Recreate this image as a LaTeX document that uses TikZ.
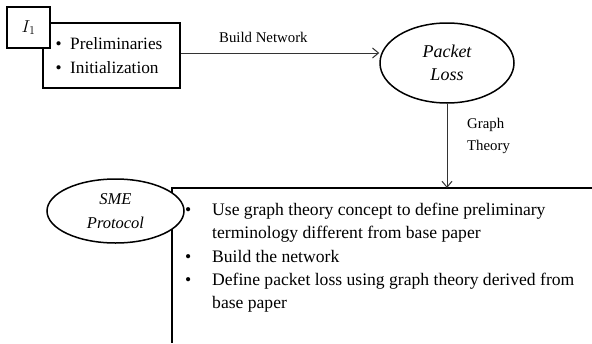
\documentclass[tikz,border=0pt]{standalone}
\usepackage{fontspec}
\setmainfont{Liberation Serif}
\usetikzlibrary{shapes.geometric,arrows.meta}
\begin{document}
\begin{tikzpicture}[x=1pt,y=-1pt,
  boxline/.style={draw=black,line width=1.8pt},
  ell/.style={ellipse,draw=black,line width=1.5pt,fill=white,inner sep=0pt,align=center},
  arr/.style={draw=black!80,line width=1pt,-{Straight Barb[length=6pt,width=10pt]}},
  lbl/.style={font=\fontsize{14.8}{22}\selectfont,inner sep=0pt,anchor=base west},
  body/.style={font=\fontsize{17.6}{23.25}\selectfont,inner sep=0pt,anchor=base west},
  small/.style={font=\fontsize{17.3}{23}\selectfont,inner sep=0pt,anchor=base west}
]
\useasboundingbox[fill=white] (0,0) rectangle (592,343);
% preliminaries box
\node[boxline,fill=white,minimum width=137pt,minimum height=65pt,inner sep=0pt] (prelim) at (111.5,55.5) {};
\node[small] (p1b) at (55.5,49) {\textbullet};
\node[small] (p1) at (70,49) {Preliminaries};
\node[small] (p2b) at (55.5,73) {\textbullet};
\node[small] (p2) at (70,73) {Initialization};
\node[boxline,fill=white,minimum width=43pt,minimum height=41pt,inner sep=0pt,
  font=\fontsize{17}{20}\selectfont] (ione) at (28.5,27.5) {$I_1$};
% packet loss
\node[ell,minimum width=134pt,minimum height=80pt,font=\fontsize{18}{23}\selectfont\itshape] (packet) at (447,63) {Packet\\Loss};
% big box
\coordinate (bigtl) at (172,188);
\coordinate (bigtop) at (449,188);
\draw[line width=2pt] (592,188) -- (bigtl) -- (172,343);
\node[ell,minimum width=137pt,minimum height=64pt,font=\fontsize{16.5}{24}\selectfont\itshape] (sme) at (115.5,211) {SME\\Protocol};
% arrows
\path ([yshift=2.5pt]prelim.east) coordinate (a1);
\draw[arr] (a1) -- (a1 -| packet.west);
\node[lbl] (bn) at (219,42) {Build Network};
\draw[arr] (packet.south) -- (packet.south |- bigtop);
\node[lbl] (gt1) at (467,128) {Graph};
\node[lbl] (gt2) at (467,150) {Theory};
% list
\node[body] (b1) at (185,215) {\textbullet};
\node[body] (t1) at (212,215) {Use graph theory concept to define preliminary};
\node[body] (t1b) at (212,238.5) {terminology different from base paper};
\node[body] (b2) at (185,262) {\textbullet};
\node[body] (t2) at (212,262) {Build the network};
\node[body] (b3) at (185,285) {\textbullet};
\node[body] (t3) at (212,285) {Define packet loss using graph theory derived from};
\node[body] (t3b) at (212,308) {base paper};
\end{tikzpicture}
\end{document}
